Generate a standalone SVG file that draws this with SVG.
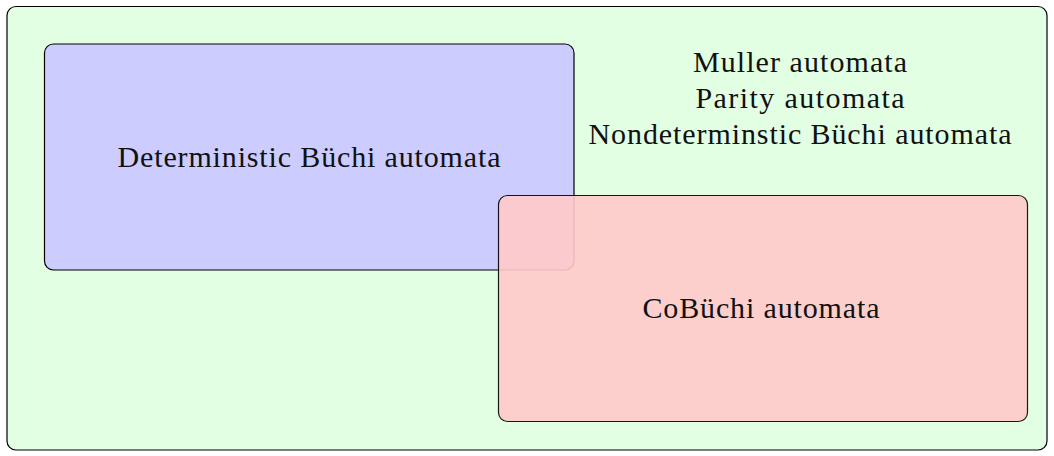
<svg xmlns="http://www.w3.org/2000/svg" width="1054" height="456" viewBox="0 0 1054 456">
<style>
.box{stroke:#000;stroke-width:1.2}
.lbl{font-family:"Liberation Serif","DejaVu Serif",serif;font-size:30px;fill:#111;text-anchor:middle}
</style>
<rect width="1054" height="456" fill="#fff"/>
<g id="universe">
<rect class="box" x="7" y="6.5" width="1040" height="443.5" rx="9" fill="#e3ffe3"/>
<text class="lbl" x="800" y="72" textLength="214">Muller automata</text>
<text class="lbl" x="800" y="108" textLength="209">Parity automata</text>
<text class="lbl" x="800" y="144" textLength="423">Nondeterminstic Büchi automata</text>
</g>
<g id="deterministic">
<rect class="box" x="44.5" y="44" width="529.5" height="226" rx="9" fill="#ccccff"/>
<text class="lbl" x="309" y="167" textLength="383">Deterministic Büchi automata</text>
</g>
<g id="cobuchi" opacity="0.9">
<rect class="box" x="498.5" y="195.5" width="529" height="226" rx="9" fill="#ffcaca"/>
</g>
<g id="cobuchi-label">
<text class="lbl" x="761" y="318" textLength="237">CoBüchi automata</text>
</g>
<g id="connectors"/>
</svg>
